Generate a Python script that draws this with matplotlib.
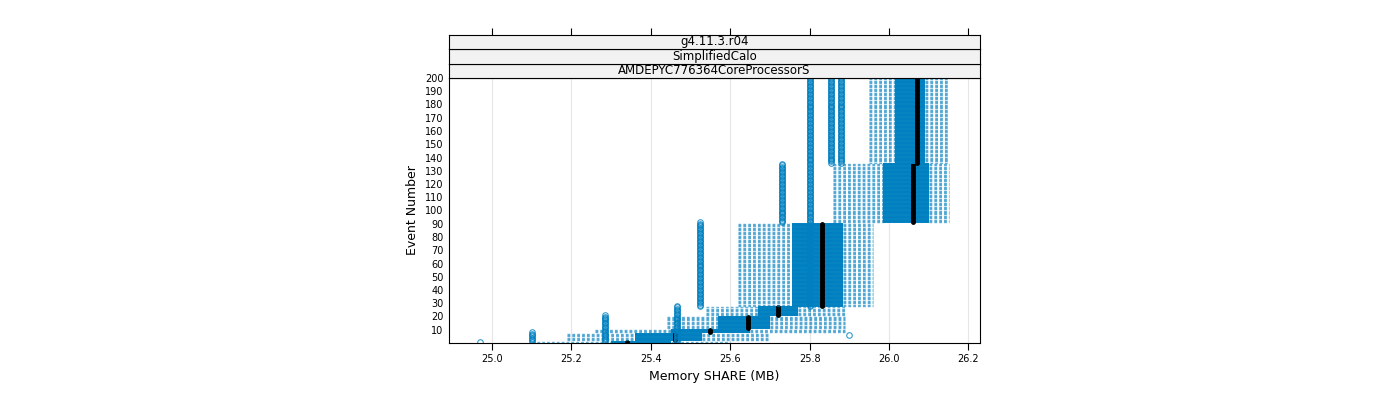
import matplotlib.pyplot as plt
from matplotlib.patches import Rectangle

# box stats per event range: (first, last, whisker_lo, q1, median, q3, whisker_hi)
ev_first = [1, 2, 8, 11, 21, 28, 91, 136]
ev_last = [1, 7, 10, 20, 27, 90, 135, 200]
whisk_lo = [25.10, 25.19, 25.26, 25.44, 25.54, 25.62, 25.86, 25.95]
box_q1 = [25.30, 25.36, 25.45, 25.57, 25.67, 25.755, 25.985, 26.015]
box_med = [25.34, 25.46, 25.55, 25.645, 25.72, 25.83, 26.06, 26.07]
box_q3 = [25.45, 25.53, 25.65, 25.70, 25.77, 25.885, 26.10, 26.09]
whisk_hi = [25.60, 25.70, 25.89, 25.89, 25.89, 25.96, 26.15, 26.15]

# outlier columns: (value, first event, last event)
out_val = [24.97, 25.10, 25.285, 25.465, 25.525, 25.73, 25.80, 25.855, 25.88, 25.90]
out_first = [1, 1, 1, 1, 28, 91, 28, 136, 136, 6]
out_last = [1, 8, 21, 28, 91, 135, 200, 200, 200, 6]

strip_labels = ["g4.11.3.r04", "SimplifiedCalo", "AMDEPYC776364CoreProcessorS"]
blue = "#0080C0"

fig = plt.figure(figsize=(14, 4), dpi=100)
ax = fig.add_axes([449 / 1400, 57 / 400, 531 / 1400, 265 / 400])

for i in range(len(ev_first)):
    for ev in range(ev_first[i], ev_last[i] + 1):
        ax.hlines(ev, whisk_lo[i], box_q1[i], colors=blue, linestyles=(0, (2, 1.5)), lw=1.0, alpha=0.6)
        ax.hlines(ev, box_q3[i], whisk_hi[i], colors=blue, linestyles=(0, (2, 1.5)), lw=1.0, alpha=0.6)
        ax.hlines(ev, box_q1[i], box_q3[i], colors=blue, lw=1.4)
        ax.plot([box_med[i]], [ev], "o", color="black", ms=3.5, mew=0)

for v, a, b in zip(out_val, out_first, out_last):
    evs = list(range(a, b + 1))
    ax.plot([v] * len(evs), evs, "o", mfc="none", mec=blue, ms=4, mew=0.8, alpha=0.8)

ax.set_xlim(24.892, 26.229)
ax.set_ylim(0, 200)
xt = [25.0, 25.2, 25.4, 25.6, 25.8, 26.0, 26.2]
ax.set_xticks(xt)
ax.set_xticklabels([f"{t:.1f}" for t in xt], fontsize=7)
ax.set_yticks(range(10, 201, 10))
ax.set_yticklabels([str(t) for t in range(10, 201, 10)], fontsize=7)
ax.tick_params(axis="y", length=0, pad=4)
ax.tick_params(axis="x", length=5, pad=3)
ax.grid(axis="x", color="#e6e6e6", lw=0.8)
ax.set_axisbelow(True)
ax.set_xlabel("Memory SHARE (MB)", fontsize=9)
ax.set_ylabel("Event Number", fontsize=9)
for s in ax.spines.values():
    s.set_linewidth(0.8)

# strips
strip_h = 14.5 / 400
for k, lab in enumerate(reversed(strip_labels)):
    y0 = (400 - 78) / 400 + k * strip_h
    sax = fig.add_axes([449 / 1400, y0, 531 / 1400, strip_h])
    sax.set_facecolor("#f2f2f2")
    sax.set_xticks([])
    sax.set_yticks([])
    sax.set_xlim(ax.get_xlim())
    for s in sax.spines.values():
        s.set_linewidth(0.8)
    sax.text(0.5, 0.5, lab, ha="center", va="center", fontsize=8.5, transform=sax.transAxes)
    if k == len(strip_labels) - 1:
        sax.set_xticks(xt)
        sax.tick_params(axis="x", top=True, bottom=False, labeltop=False, labelbottom=False, length=5)

fig.savefig("out.png", dpi=100)
